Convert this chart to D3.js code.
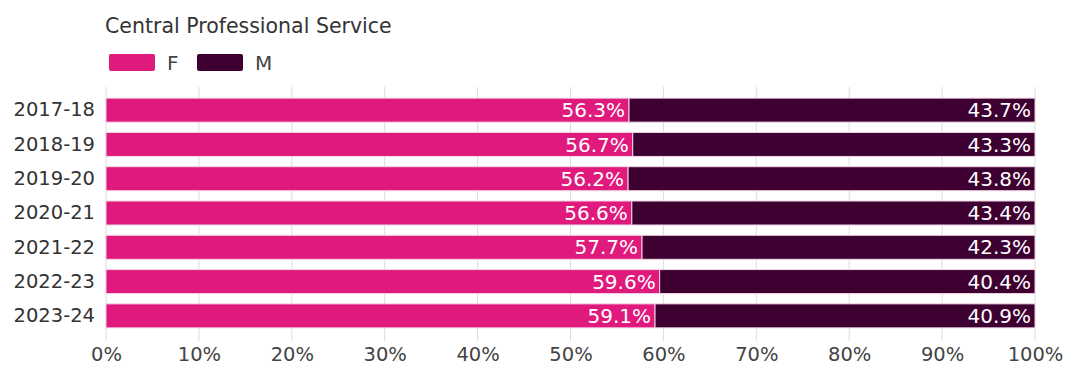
<!DOCTYPE html>
<html>
<head>
<meta charset="utf-8">
<script src="https://cdn.jsdelivr.net/npm/d3@7"></script>
<style>
  html, body { margin: 0; padding: 0; background: #fff; }
  svg { display: block; font-family: "DejaVu Sans", sans-serif; }
</style>
</head>
<body>
<svg id="chart" width="1068" height="367"></svg>
<script>
const title = "Central Professional Service";
const years = ["2017-18", "2018-19", "2019-20", "2020-21", "2021-22", "2022-23", "2023-24"];
const female = [56.3, 56.7, 56.2, 56.6, 57.7, 59.6, 59.1];
const male = [43.7, 43.3, 43.8, 43.4, 42.3, 40.4, 40.9];
const seriesNames = ["F", "M"];
const seriesColors = ["#e0197d", "#3d0031"];
const xTicks = [0, 10, 20, 30, 40, 50, 60, 70, 80, 90, 100];

const svg = d3.select("#chart");
const margin = { left: 106, right: 33, top: 93, bottom: 34 };
const W = 1068, H = 367;
const FONT = "DejaVu Sans, sans-serif";

const x = d3.scaleLinear().domain([0, 100]).range([margin.left, W - margin.right]);
const y = d3.scaleBand().domain(years).range([margin.top, H - margin.bottom]).paddingInner(0.3).paddingOuter(0.15);

// vertical gridlines
svg.append("g")
  .selectAll("line")
  .data(xTicks)
  .join("line")
  .attr("x1", d => x(d)).attr("x2", d => x(d))
  .attr("y1", 87).attr("y2", 341)
  .attr("stroke", "#dcdcdc")
  .attr("stroke-width", 1);

// x axis labels
const xAxis = d3.axisBottom(x).tickValues(xTicks).tickFormat(d => d + "%").tickSize(0).tickPadding(0);
const gx = svg.append("g").attr("transform", "translate(0,347)").call(xAxis);
gx.select(".domain").remove();
gx.selectAll("text").attr("font-size", 19.5).attr("fill", "#444").attr("dy", "0.71em")
  .attr("font-family", FONT);

// y axis labels
const yAxis = d3.axisLeft(y).tickSize(0).tickPadding(11);
const gy = svg.append("g").attr("transform", `translate(${margin.left},0)`).call(yAxis);
gy.select(".domain").remove();
gy.selectAll("text").attr("font-size", 19.5).attr("fill", "#333")
  .attr("font-family", FONT);

// stacked bars
const rows = years.map((yr, i) => ({ year: yr, F: female[i], M: male[i] }));
const stack = d3.stack().keys(seriesNames)(rows);

const groups = svg.append("g")
  .selectAll("g")
  .data(stack)
  .join("g")
  .attr("fill", (d, i) => seriesColors[i]);

groups.selectAll("rect")
  .data(d => d)
  .join("rect")
  .attr("x", d => x(d[0]))
  .attr("y", d => y(d.data.year))
  .attr("width", d => x(d[1]) - x(d[0]))
  .attr("height", y.bandwidth())
  .attr("stroke", "#f3d6e6")
  .attr("stroke-width", 1);

// value labels at the right end of each segment
groups.selectAll("text")
  .data(d => d.map(p => ({ p, key: d.key })))
  .join("text")
  .attr("x", d => x(d.p[1]) - 4)
  .attr("y", d => y(d.p.data.year) + y.bandwidth() / 2)
  .attr("dy", "0.36em")
  .attr("text-anchor", "end")
  .attr("fill", "#fff")
  .attr("font-size", 20)
  .text(d => d.p.data[d.key].toFixed(1) + "%");

// title
svg.append("text")
  .attr("x", 105).attr("y", 33)
  .attr("font-size", 20.5).attr("fill", "#333")
  .text(title);

// legend
const legend = svg.append("g").attr("transform", "translate(109,54)");
const lg = legend.selectAll("g").data(seriesNames).join("g")
  .attr("transform", (d, i) => `translate(${i * 88},0)`);
lg.append("rect")
  .attr("width", 46).attr("height", 17).attr("rx", 2)
  .attr("fill", (d, i) => seriesColors[i]);
lg.append("text")
  .attr("x", 58).attr("y", 8.5).attr("dy", "0.36em")
  .attr("font-size", 20).attr("fill", "#444")
  .text(d => d);
</script>
</body>
</html>
